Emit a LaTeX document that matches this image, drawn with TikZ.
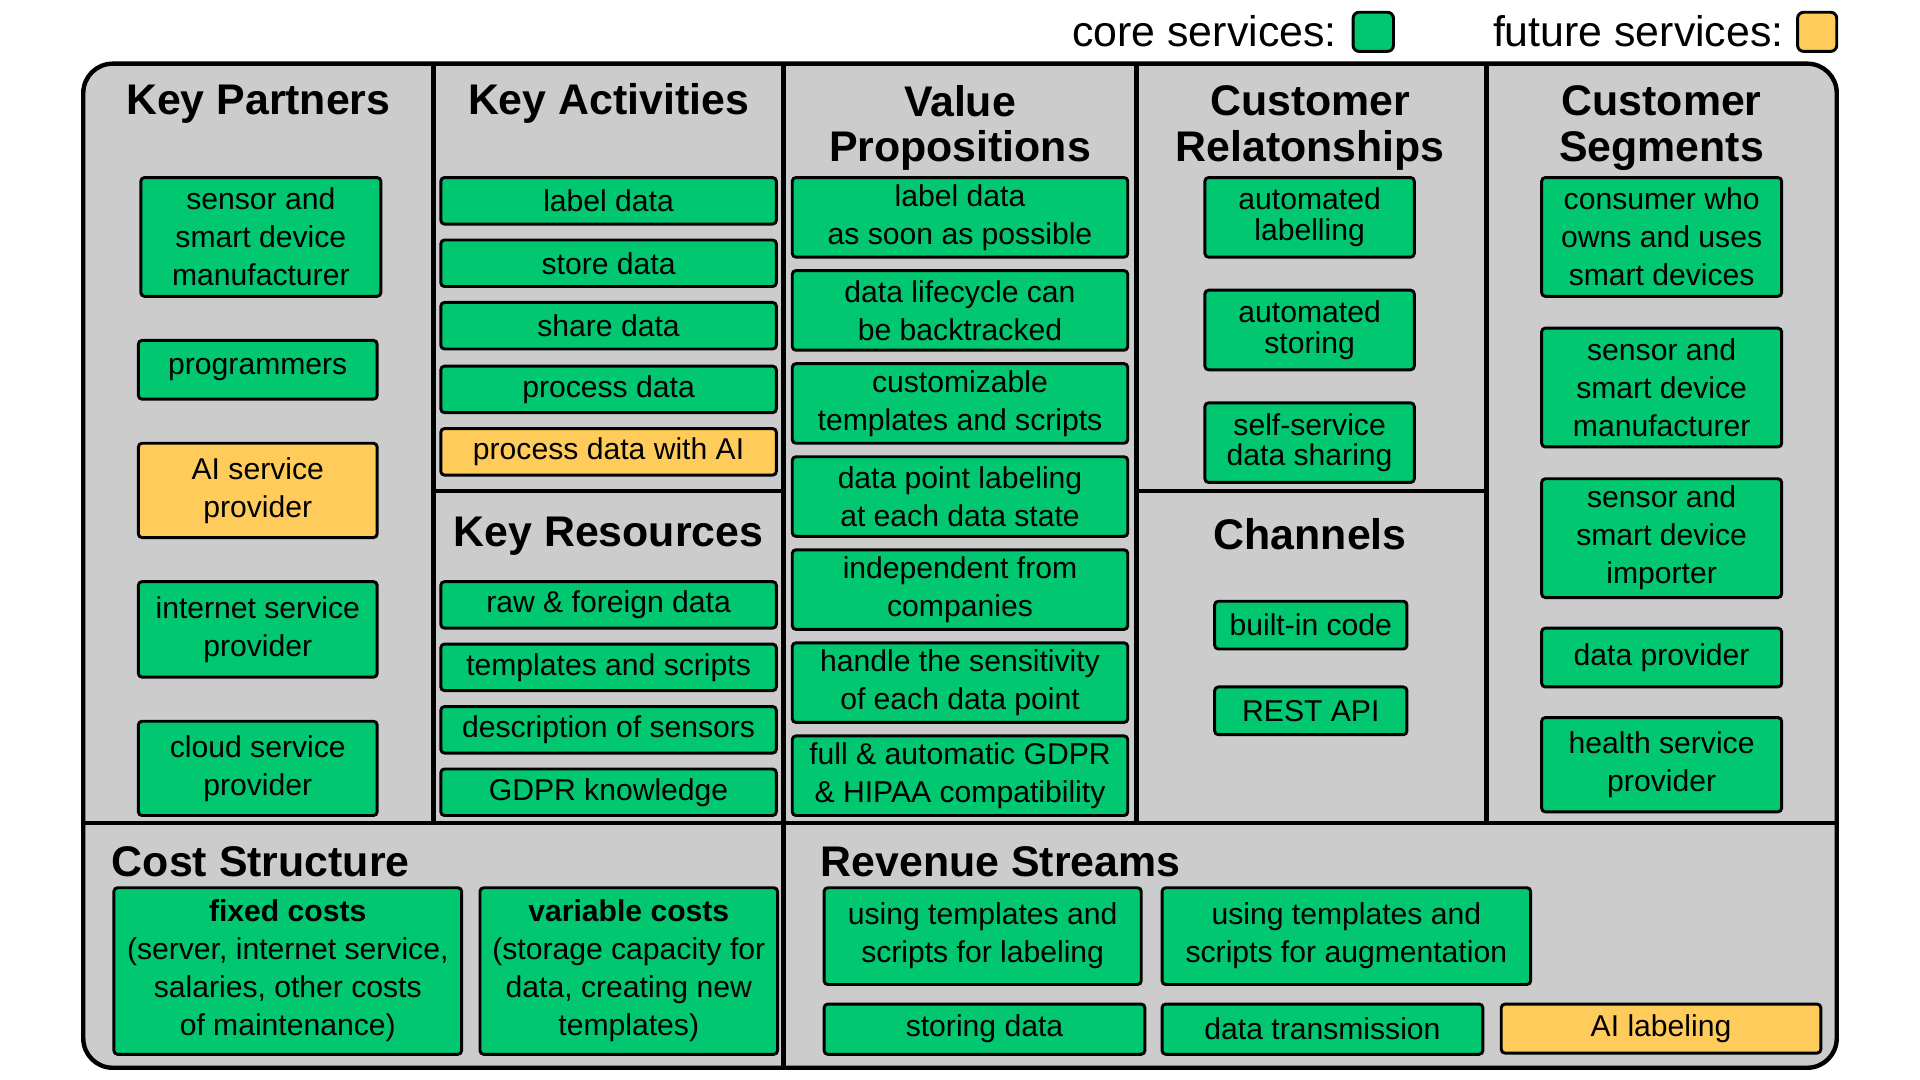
\documentclass[tikz,border=0pt]{standalone}
\usepackage{fontspec}
\setmainfont{Liberation Sans}
\definecolor{cg}{HTML}{00C770}
\definecolor{cy}{HTML}{FFCC5C}
\definecolor{bgg}{HTML}{CCCCCC}
\newcommand\bx[7]{\node[#2, minimum width={(#5-#3)*0.5pt}, minimum height={(#6-#4)*0.5pt}] (#1) at ({(#3+#5)/2},{(#4+#6)/2}) {#7};}
\begin{document}
\begin{tikzpicture}[x=0.5pt,y=-0.5pt,
  gbox/.style={draw=black, line width=1.2pt, rounded corners=1.5pt, fill=cg, align=center, inner sep=0pt, font=\fontsize{12.3}{15.5}\selectfont},
  ybox/.style={gbox, fill=cy},
  gtight/.style={gbox, font=\fontsize{12.3}{12.5}\selectfont},
  ttl/.style={font=\fontsize{17.5}{18.65}\selectfont\bfseries, align=center, inner sep=0pt},
  legt/.style={font=\fontsize{17.5}{20}\selectfont, anchor=base east, inner sep=0pt},
  divl/.style={line width=1.8pt}]
\useasboundingbox (0,0) rectangle (1568,882);
% frame
\draw[line width=1.8pt, fill=bgg, rounded corners=12pt] (68,52) rectangle (1500,872);
\draw[divl] (354,52) -- (354,672);
\draw[divl] (640,52) -- (640,872);
\draw[divl] (928,52) -- (928,672);
\draw[divl] (1214,52) -- (1214,672);
\draw[divl] (68,672) -- (1500,672);
\draw[divl] (354,401) -- (640,401);
\draw[divl] (928,401) -- (1214,401);
% legend
\node[legt] (lc) at (1092,38) {core services:};
\node[gbox, minimum width=16.5pt, minimum height=16pt, rounded corners=2.5pt] (lcs) at (1121.5,26) {};
\node[legt] (lf) at (1457,38) {future services:};
\node[ybox, minimum width=16pt, minimum height=16pt, rounded corners=2.5pt] (lfs) at (1484,26) {};
% titles
\node[ttl, anchor=base] (tkp) at (211,93.5) {Key Partners};
\node[ttl, anchor=base] (tka) at (497,93.5) {Key Activities};
\node[ttl] (tvp) at (784,104.5) {Value\\Propositions};
\node[ttl] (tcr) at (1070,104.5) {Customer\\Relatonships};
\node[ttl] (tcs) at (1357,104.5) {Customer\\Segments};
\node[ttl, anchor=base] (tkr) at (497,446) {Key Resources};
\node[ttl, anchor=base] (tch) at (1070,449) {Channels};
\node[ttl, anchor=base west] (tcost) at (91,716) {Cost Structure};
\node[ttl, anchor=base west] (trev) at (670,716) {Revenue Streams};
% key partners
\bx{kp1}{gbox}{115}{145}{311}{242}{sensor and\\smart device\\manufacturer}
\bx{kp2}{gbox}{113}{278}{308}{326}{programmers}
\bx{kp3}{ybox}{113}{362}{308}{439}{AI service\\provider}
\bx{kp4}{gbox}{113}{475}{308}{553}{internet service\\provider}
\bx{kp5}{gbox}{113}{589}{308}{666}{cloud service\\provider}
% key activities
\bx{ka1}{gbox}{360}{145}{634}{183}{label data}
\bx{ka2}{gbox}{360}{196}{634}{234}{store data}
\bx{ka3}{gbox}{360}{247}{634}{285}{share data}
\bx{ka4}{gbox}{360}{299}{634}{337}{process data}
\bx{ka5}{ybox}{360}{350}{634}{388}{process data with AI}
% key resources
\bx{kr1}{gbox}{360}{475}{634}{513}{raw \& foreign data}
\bx{kr2}{gbox}{360}{526}{634}{564}{templates and scripts}
\bx{kr3}{gbox}{360}{577}{634}{615}{description of sensors}
\bx{kr4}{gbox}{360}{628}{634}{666}{GDPR knowledge}
% value propositions
\bx{vp1}{gbox}{647}{145}{921}{210}{label data\\as soon as possible}
\bx{vp2}{gbox}{647}{221}{921}{286}{data lifecycle can\\be backtracked}
\bx{vp3}{gbox}{647}{297}{921}{362}{customizable\\templates and scripts}
\bx{vp4}{gbox}{647}{373}{921}{438}{data point labeling\\at each data state}
\bx{vp5}{gbox}{647}{449}{921}{514}{independent from\\companies}
\bx{vp6}{gbox}{647}{525}{921}{590}{handle the sensitivity\\of each data point}
\bx{vp7}{gbox}{647}{601}{921}{666}{full \& automatic GDPR\\\& HIPAA compatibility}
% customer relationships
\bx{cr1}{gtight}{984}{145}{1155}{210}{automated\\labelling}
\bx{cr2}{gtight}{984}{237}{1155}{302}{automated\\storing}
\bx{cr3}{gtight}{984}{329}{1155}{394}{self-service\\data sharing}
% channels
\bx{ch1}{gbox}{992}{491}{1149}{530}{built-in code}
\bx{ch2}{gbox}{992}{561}{1149}{600}{REST API}
% customer segments
\bx{cs1}{gbox}{1259}{145}{1455}{242}{consumer who\\owns and uses\\smart devices}
\bx{cs2}{gbox}{1259}{268}{1455}{365}{sensor and\\smart device\\manufacturer}
\bx{cs3}{gbox}{1259}{391}{1455}{488}{sensor and\\smart device\\importer}
\bx{cs4}{gbox}{1259}{513}{1455}{561}{data provider}
\bx{cs5}{gbox}{1259}{586}{1455}{663}{health service\\provider}
% cost structure
\bx{cost1}{gbox}{93}{725}{377}{861}{\textbf{fixed costs}\\(server, internet service,\\salaries, other costs\\of maintenance)}
\bx{cost2}{gbox}{392}{725}{635}{861}{\textbf{variable costs}\\(storage capacity for\\data, creating new\\templates)}
% revenue streams
\bx{rs1}{gbox}{673}{725}{932}{804}{using templates and\\scripts for labeling}
\bx{rs2}{gbox}{949}{725}{1250}{804}{using templates and\\scripts for augmentation}
\bx{rs3}{gbox}{673}{820}{935}{861}{storing data}
\bx{rs4}{gbox}{949}{820}{1211}{861}{data transmission}
\bx{rs5}{ybox}{1226}{820}{1487}{860}{AI labeling}
\end{tikzpicture}
\end{document}
